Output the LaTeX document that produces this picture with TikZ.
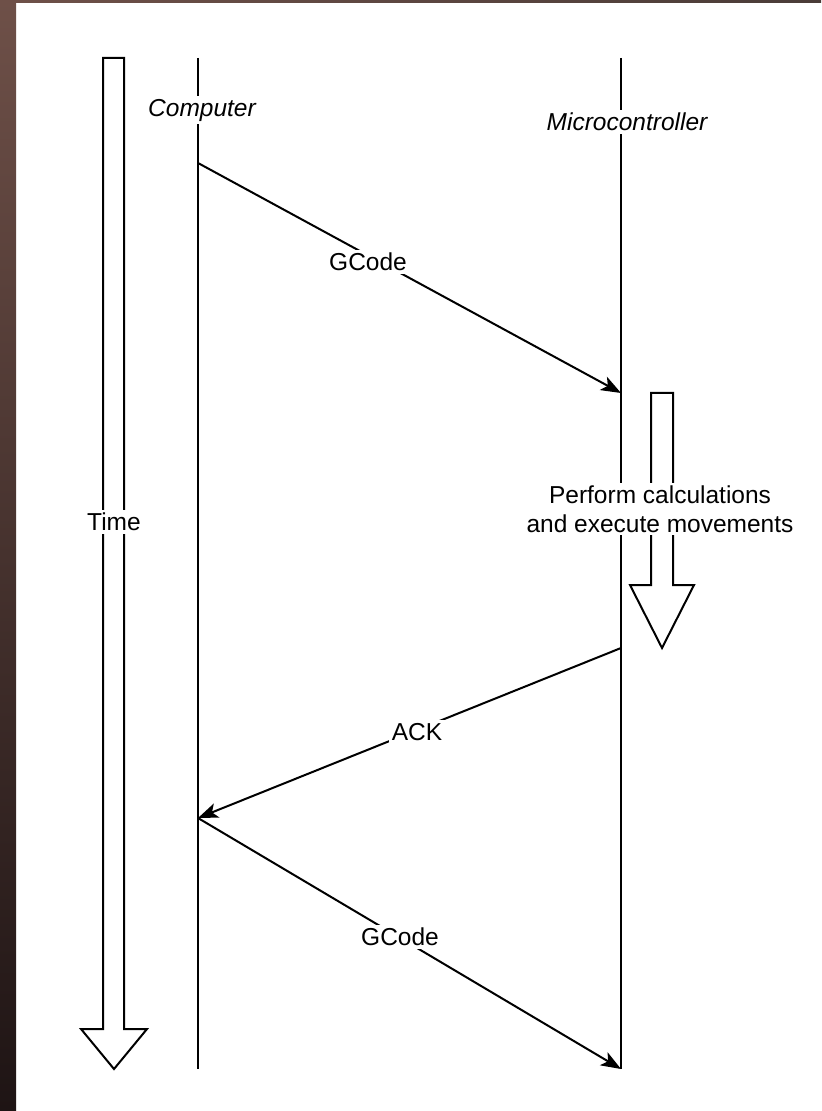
\documentclass[tikz,border=0pt]{standalone}
\usepackage{fontspec}
\setmainfont{Liberation Sans}
\usetikzlibrary{arrows.meta}
\definecolor{frameTop}{RGB}{110,80,72}
\definecolor{frameBot}{RGB}{30,20,20}
\definecolor{frameRight}{RGB}{74,60,56}
\tikzset{
  lifeline/.style={line width=1pt},
  message/.style={line width=1pt,-{Stealth[length=10pt,width=7.5pt,inset=2.5pt]}},
  blockarrow/.style={line width=1pt,fill=white,line join=miter},
  lbl/.style={fill=white,inner sep=1.5pt,font=\fontsize{12.25}{14.5}\selectfont},
  actor/.style={lbl,font=\fontsize{12.25}{14.5}\selectfont\itshape},
}
\begin{document}
\begin{tikzpicture}[x=0.5pt,y=-0.5pt]
  % page and dark frame strips
  \fill[white] (0,0) rectangle (821,1111);
  \useasboundingbox (0,0) rectangle (821,1111);
  \shade[top color=frameTop,bottom color=frameBot] (0,0) rectangle (16,1111);
  \shade[left color=frameTop,right color=frameRight] (16,0) rectangle (821,3);

  % time axis
  \draw[blockarrow] (103,58) -- (124,58) -- (124,1029) -- (147,1029) -- (114,1069)
    -- (81,1029) -- (103,1029) -- cycle;
  \node[lbl] (time) at (114,522) {Time};

  % lifelines
  \coordinate (cTop) at (198,58);
  \coordinate (cBot) at (198,1069);
  \coordinate (mTop) at (621,58);
  \coordinate (mBot) at (621,1069);
  \draw[lifeline] (cTop) -- (cBot);
  \draw[lifeline] (mTop) -- (mBot);

  % processing on the microcontroller
  \draw[blockarrow] (651,393) -- (673,393) -- (673,585) -- (694,585) -- (662,648)
    -- (630,585) -- (651,585) -- cycle;
  \node[lbl,align=center] (work) at (660,509)
    {Perform calculations\\and execute movements};

  \node[actor] (computer) at (202,110) {Computer};
  \node[actor] (micro) at (627,122) {Microcontroller};

  % messages
  \coordinate (s1) at (198,163);
  \coordinate (e1) at (621,393);
  \coordinate (s2) at (621,648);
  \coordinate (e2) at (198,818);
  \coordinate (e3) at (621,1069);
  \draw[message] (s1) -- (e1);
  \draw[message] (s2) -- (e2);
  \draw[message] (e2) -- (e3);
  \node[lbl] (gcode1) at (368,262) {GCode};
  \node[lbl] (ack) at (417,732) {ACK};
  \node[lbl] (gcode2) at (400,937) {GCode};
\end{tikzpicture}
\end{document}
